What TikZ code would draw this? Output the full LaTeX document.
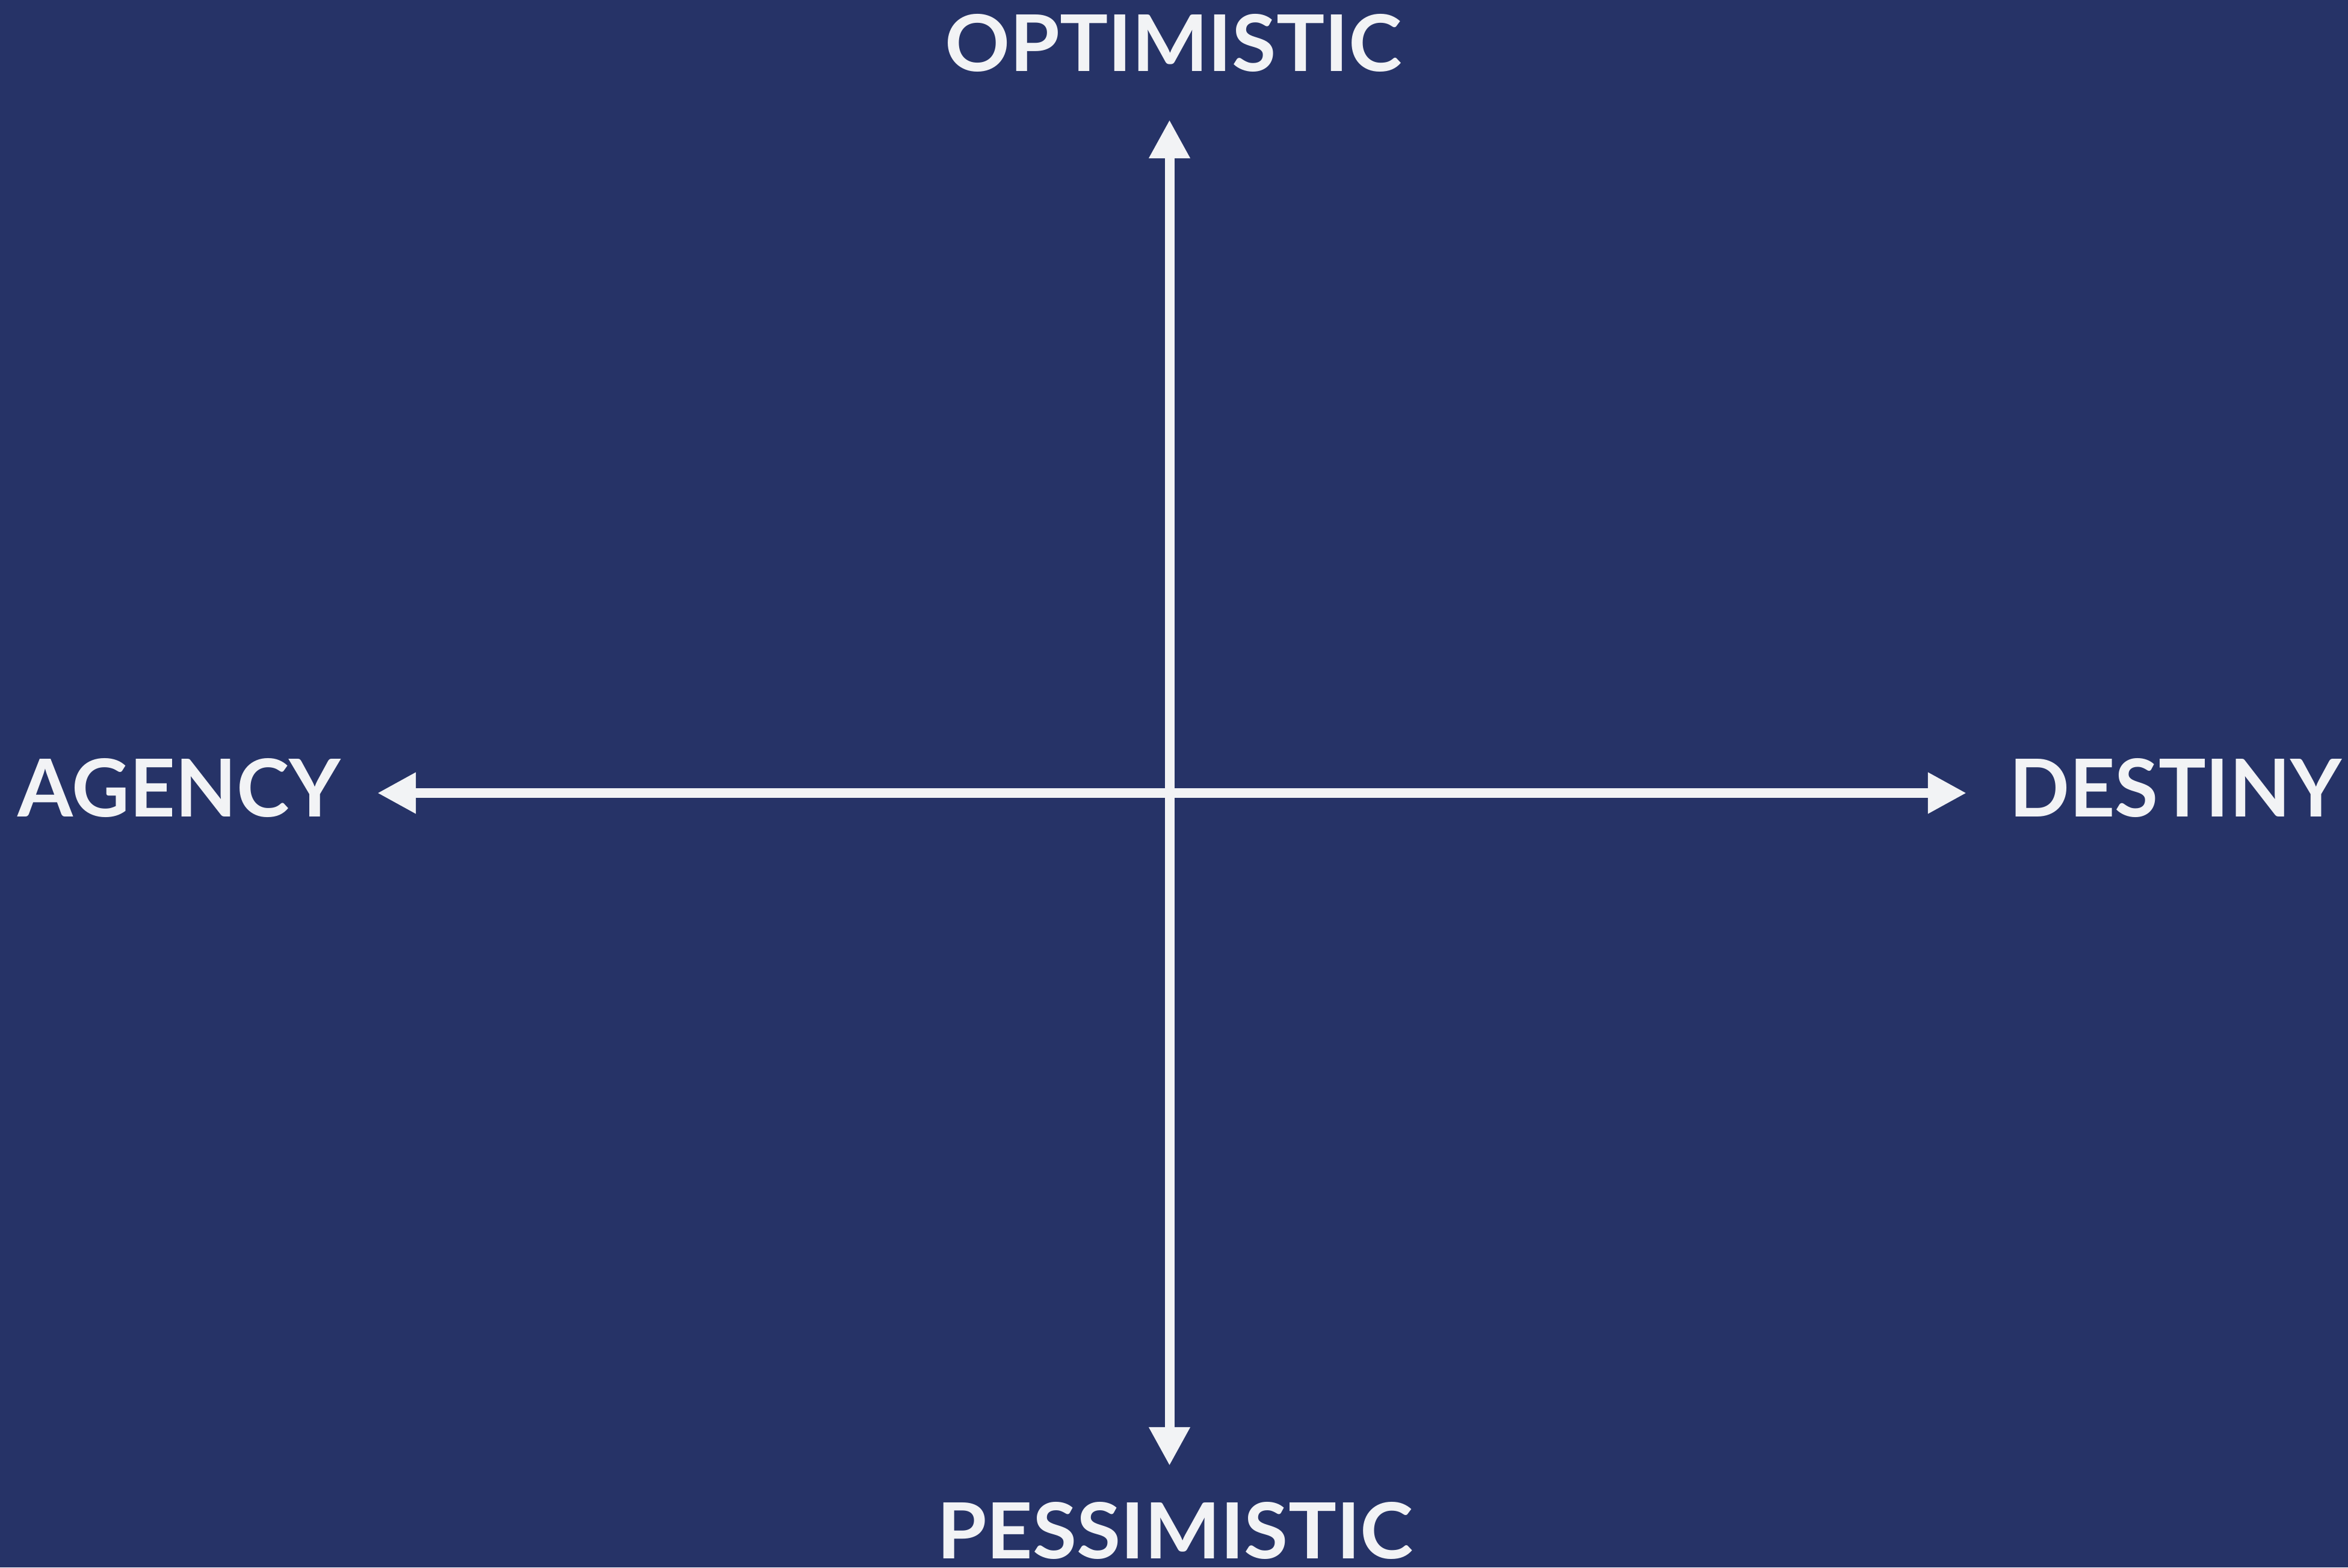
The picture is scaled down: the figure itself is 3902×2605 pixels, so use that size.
\documentclass[tikz,border=0pt]{standalone}
\usepackage{fontspec}
\setmainfont{Lato}
\usetikzlibrary{arrows.meta}
\definecolor{navy}{RGB}{38,51,103}
\definecolor{offwhite}{RGB}{242,243,245}
\tikzset{
  axis/.style={draw=offwhite, line width=0.16cm, {Triangle[length=0.64cm,width=0.64cm]}-{Triangle[length=0.64cm,width=0.64cm]}},
  lbl/.style={inner sep=0pt, outer sep=0pt, text=offwhite, anchor=north west, font=\bfseries}
}
\begin{document}
\begin{tikzpicture}[x=0.01cm,y=-0.01cm]
\fill[navy] (0,0) rectangle (3902,2605);
\useasboundingbox (0,0) rectangle (3902,2605);
\node[lbl] (opt) at (1570,23) {\resizebox{7.59cm}{0.95cm}{OPTIMISTIC}};
\node[lbl] (pes) at (1557,2496) {\resizebox{7.91cm}{0.94cm}{PESSIMISTIC}};
\node[lbl] (agy) at (30,1260) {\resizebox{5.36cm}{0.97cm}{AGENCY}};
\node[lbl] (dst) at (3339,1260) {\resizebox{5.52cm}{0.97cm}{DESTINY}};
\coordinate (top) at (1943.5,199);
\coordinate (bot) at (1943.5,2436);
\coordinate (lft) at (627,1318);
\coordinate (rgt) at (3268,1318);
\draw[axis] (lft) -- (rgt);
\draw[axis] (bot) -- (top);
\end{tikzpicture}
\end{document}
